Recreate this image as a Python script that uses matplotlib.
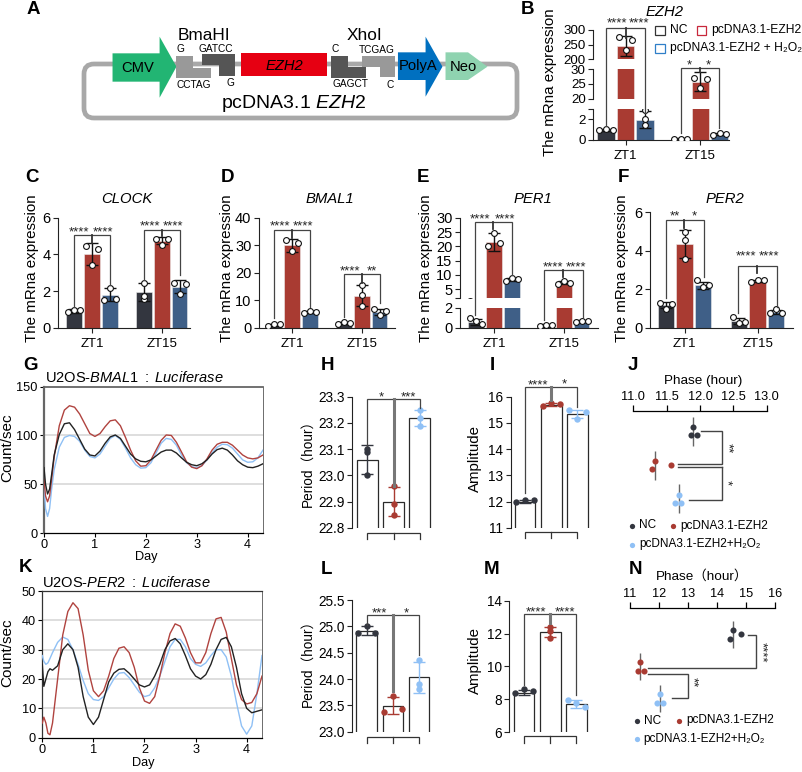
import matplotlib
matplotlib.use('Agg')
import matplotlib.pyplot as plt
from matplotlib.patches import FancyBboxPatch, Polygon, Rectangle

plt.rcParams['font.family'] = ['Liberation Sans', 'Noto Sans CJK SC', 'DejaVu Sans']
plt.rcParams['mathtext.fontset'] = 'custom'
plt.rcParams['mathtext.rm'] = 'Liberation Sans'
plt.rcParams['mathtext.it'] = 'Liberation Sans:italic'

W, H = 802, 772
DARK = '#33363f'
RED = '#a93b32'
NAVY = '#3f5f87'
LBLUE = '#8fc0f5'
LINE_K = '#222222'
LINE_R = '#b0433f'

groups = ['ZT1', 'ZT15']
bar_colors = [DARK, RED, NAVY, DARK, RED, NAVY]

# panel B - EZH2
ezh2_vals = [1.0, 245, 1.95, 0.1, 25.7, 0.55]
ezh2_err = [0.1, 35, 0.8, 0.05, 3.2, 0.1]
ezh2_pts = [[0.95, 1.05, 1.0], [275, 230, 265], [2.85, 2.0, 1.4],
            [0.1, 0.1, 0.1], [26.9, 23.5, 26.7], [0.5, 0.7, 0.6]]
# panel C - CLOCK
clock_vals = [0.93, 4.05, 1.8, 1.95, 4.75, 2.25]
clock_err = [0.1, 0.6, 0.35, 0.5, 0.2, 0.35]
clock_pts = [[0.85, 0.98, 0.98], [4.45, 3.4, 4.3], [1.55, 2.2, 1.6],
             [2.45, 1.6, 1.75], [4.85, 4.5, 4.85], [2.45, 1.85, 2.4]]
# panel D - BMAL1
bmal_vals = [1.2, 30, 5.8, 1.7, 11.7, 5.8]
bmal_err = [0.3, 2.3, 0.4, 0.3, 3.8, 1.2]
bmal_pts = [[0.9, 1.5, 1.3], [32, 27.8, 31], [5.5, 6.3, 5.8],
            [1.5, 2.0, 1.7], [15.5, 11.8, 7.9], [6.9, 4.6, 6.2]]
# panel E - PER1
per1_vals = [0.6, 21.5, 8.4, 0.25, 7.3, 0.65]
per1_err = [0.3, 3.0, 0.5, 0.1, 0.5, 0.1]
per1_pts = [[0.95, 0.7, 0.38], [20, 24.5, 21], [8, 9, 8.5],
            [0.15, 0.3, 0.25], [6.8, 7.8, 7.2], [0.6, 0.7, 0.65]]
# panel F - PER2
per2_vals = [1.2, 4.35, 2.2, 0.35, 2.45, 0.8]
per2_err = [0.15, 0.75, 0.2, 0.15, 0.05, 0.1]
per2_pts = [[1.3, 0.95, 1.25], [4.95, 4.55, 3.55], [2.5, 2.1, 2.2],
            [0.55, 0.25, 0.3], [2.4, 2.5, 2.5], [0.75, 0.95, 0.75]]

# luciferase traces
day = [0, 0.03, 0.07, 0.11, 0.15, 0.2, 0.3, 0.4, 0.5, 0.6, 0.7, 0.8, 0.9, 1.0, 1.1, 1.2, 1.3, 1.4, 1.5, 1.6,
       1.7, 1.8, 1.9, 2.0, 2.1, 2.2, 2.3, 2.4, 2.5, 2.6, 2.7, 2.8, 2.9, 3.0, 3.1, 3.2, 3.3, 3.4, 3.5, 3.6,
       3.7, 3.8, 3.9, 4.0, 4.1, 4.2, 4.3]
g_black = [67, 50, 40, 45, 60, 80, 101, 112, 113, 106, 96, 86, 80, 79, 84, 92, 98.5, 100.5, 97, 89,
           81, 76, 73.5, 73, 75, 79, 83, 85, 85, 82, 77, 72.5, 70, 69, 71, 75, 81, 85.5, 87, 85,
           80, 74, 70, 67.5, 67, 68.5, 71]
g_red = [55, 38, 32, 38, 55, 78, 110, 126, 130.5, 129, 122, 112, 102, 99, 102, 109, 115, 116, 110, 98,
         85, 74, 68.5, 69, 75, 85, 95, 100.5, 100, 93, 83, 73, 67.5, 66, 69, 76, 85, 91, 93, 93,
         90, 85, 80, 77, 76, 77, 80]
g_blue = [50, 25, 17, 25, 45, 65, 88, 98, 100, 99, 94, 85, 78.5, 77, 81, 89, 97, 100, 96, 87,
          77, 70, 66.5, 67, 72, 82, 92, 97, 96, 90, 80, 72, 68, 67, 69, 75, 82, 88, 91, 90.5,
          87, 81, 75, 72.5, 73, 77, 85]
k_black = [25, 17.5, 20, 22.5, 23.5, 23, 24.5, 30, 32, 30, 24, 14, 7, 4.5, 7, 13, 19, 22, 23.3, 23.5,
           22, 20, 18, 17.3, 18, 21, 25, 30, 33, 33.8, 32, 28, 23.5, 21, 20, 21.5, 25, 30, 33.5, 34.2,
           31, 24, 15, 10, 8.5, 9, 9.5]
k_red = [5, 7, 5, 1.5, 1, 5, 20, 35, 43, 46, 44, 35, 23, 16, 14, 16, 21, 27, 30.5, 31,
         29, 24, 17, 12.5, 11.7, 14, 21, 29, 35.5, 38.8, 38, 34, 29, 25.5, 25.5, 29, 35.5, 40.5, 41, 36,
         27, 18, 13, 11.5, 12, 15, 21]
k_blue = [28, 26, 25, 25.5, 27, 29, 32.5, 34.3, 33.5, 30, 25, 19.5, 15, 13, 12.7, 14, 17, 20, 22, 22.2,
          20.5, 18, 15.5, 14, 14.5, 17, 21, 26, 31, 33.5, 33.5, 31, 27, 25, 24.3, 25.5, 28, 30, 30, 27.5,
          21, 12, 4, 1.2, 4, 15, 28]

# period / amplitude panels
trio_colors = [DARK, RED, LBLUE]
h_vals = [23.06, 22.90, 23.22]
h_err = [0.055, 0.055, 0.03]
h_pts = [[23.10, 23.09, 23.0], [22.96, 22.89, 22.85], [23.25, 23.22, 23.19]]
i_vals = [12.0, 15.7, 15.33]
i_err = [0.05, 0.05, 0.15]
i_pts = [[11.97, 12.07, 12.05], [15.65, 15.75, 15.72], [15.5, 15.15, 15.43]]
l_vals = [24.92, 23.49, 24.03]
l_err = [0.08, 0.16, 0.3]
l_pts = [[24.87, 25.0, 24.88], [23.38, 23.67, 23.44], [24.37, 23.91, 23.82]]
m_vals = [8.4, 12.1, 7.7]
m_err = [0.15, 0.3, 0.25]
m_pts = [[8.35, 8.6, 8.5], [12.4, 12.15, 11.75], [7.95, 7.75, 7.5]]

# phase panels
j_phase = [[11.9, 11.86, 11.95], [11.32, 11.285, 11.56], [11.685, 11.625, 11.715]]
j_center = [11.9, 11.32, 11.685]
n_phase = [[14.55, 14.44, 14.83], [11.33, 11.29, 11.47], [12.03, 11.94, 12.15]]
n_center = [14.55, 11.33, 12.03]

fig = plt.figure(figsize=(W / 100, H / 100), dpi=100)


def px_axes(x0, y0, x1, y1):
    # box given in picture pixels, y0 is the top edge
    return fig.add_axes([x0 / W, 1 - y1 / H, (x1 - x0) / W, (y1 - y0) / H])


def style(ax, size=10.5):
    for s in ['top', 'right']:
        ax.spines[s].set_visible(False)
    for s in ['left', 'bottom']:
        ax.spines[s].set_linewidth(0.8)
        ax.spines[s].set_color('#222222')
    ax.tick_params(labelsize=size, length=3.5, width=0.8, pad=2, color='#222222')
    ax.patch.set_alpha(0)


def draw_bars(ax, vals, err, pts, xs, stacked=()):
    ax.bar(xs, vals, width=0.88, color=bar_colors, edgecolor='#eeeeee', linewidth=0.4, zorder=2)
    for i, x in enumerate(xs):
        ax.errorbar(x, vals[i], yerr=err[i], color='#111111', lw=1, capsize=4, capthick=1, zorder=3)
        off = [0, 0, 0] if i in stacked else [-0.34, 0, 0.34]
        ax.plot([x + o for o in off], pts[i], 'o', mfc='white', mec='#111111', ms=4.2, mew=0.8, zorder=4, ls='none')


def group_panel(segments, x0, x1, c0, vals, err, pts, stacked=(), step=17.9, gap=3.9, size=10.5):
    xs = [0, 1, 2, gap, gap + 1, gap + 2]
    for k, (y_top, y_bot, lim, ticks, labels) in enumerate(segments):
        ax = px_axes(x0, y_top, x1, y_bot)
        style(ax, size)
        draw_bars(ax, vals, err, pts, xs, stacked)
        ax.set_xlim((x0 - c0) / step, (x1 - c0) / step)
        ax.set_ylim(*lim)
        ax.set_yticks(ticks)
        ax.set_yticklabels(labels)
        if k == len(segments) - 1:
            ax.set_xticks([1, gap + 1])
            ax.set_xticklabels(groups, fontsize=9.5)
            ax.tick_params(axis='x', pad=4)
        else:
            ax.set_xticks([])
            ax.spines['bottom'].set_visible(False)


def nums(vs):
    return [str(v) for v in vs]


# B
group_panel([(30, 59, (200, 300), [200, 250, 300], nums([200, 250, 300])),
             (69, 98.7, (20, 30), [20, 25, 30], nums([20, 25, 30])),
             (108.7, 140, (0, 3.02), [0, 2, 3], ['0', '2', ''])],
            593.4, 729, 606, ezh2_vals, ezh2_err, ezh2_pts, stacked=(2,), step=19.5, gap=3.83, size=9.6)
# C, D
group_panel([(217.7, 328, (0, 6), [0, 2, 4, 6], nums([0, 2, 4, 6]))],
            58, 190, 74, clock_vals, clock_err, clock_pts, stacked=(3,))
group_panel([(217.7, 328, (0, 40), [0, 10, 20, 30, 40], nums([0, 10, 20, 30, 40]))],
            259, 395, 274, bmal_vals, bmal_err, bmal_pts, stacked=(4,))
# E
group_panel([(217.7, 297.7, (2.07, 30), [2.07, 5, 10, 15, 20, 25, 30], ['', '5', '10', '15', '20', '25', '30']),
             (307.7, 327.7, (0, 2), [0, 2], ['0', '2'])],
            460, 598, 476, per1_vals, per1_err, per1_pts)
# F
group_panel([(212.3, 327.7, (0, 6), [0, 2, 4, 6], nums([0, 2, 4, 6]))],
            650, 793, 666, per2_vals, per2_err, per2_pts, stacked=(1,), step=18.5, gap=3.95)


def trace_panel(x0, x1, y0, y1, ymax, yticks, grid, traces, heavy):
    ax = px_axes(x0, y0, x1, y1)
    for g in grid:
        ax.axhline(g, color='#d4d4d4', lw=1.1, zorder=1)
    for vals, c in traces:
        ax.plot(day, vals, color=c, lw=1.0, zorder=3)
    ax.set_xlim(0, 4.3)
    ax.set_ylim(0, ymax)
    ax.set_xticks([0, 1, 2, 3, 4])
    ax.set_yticks(yticks)
    ax.tick_params(labelsize=9.2, length=3, width=0.8, pad=1.5)
    edge = '#666666' if heavy else '#333333'
    ax.spines['left'].set_color(edge)
    ax.spines['left'].set_linewidth(1.6 if heavy else 0.9)
    ax.spines['top'].set_color(edge)
    ax.spines['top'].set_linewidth(1.3 if heavy else 0.9)
    ax.spines['right'].set_color('#555555')
    ax.spines['right'].set_linewidth(0.6)
    ax.spines['bottom'].set_linewidth(0.9)


trace_panel(44, 263, 386.7, 533, 150, [0, 50, 100, 150], [50, 100],
            [(g_blue, LBLUE), (g_red, LINE_R), (g_black, LINE_K)], True)
trace_panel(42.3, 262, 591, 737.7, 50, [0, 10, 20, 30, 40, 50], [10, 20, 30, 40],
            [(k_blue, LBLUE), (k_red, LINE_R), (k_black, LINE_K)], False)


def trio_panel(x0, x1, c0, y0, y1, lim, ticks, labels, vals, err, pts, stacked=(), step=26.2):
    ax = px_axes(x0, y0, x1, y1)
    style(ax, 9.8)
    ax.spines['bottom'].set_visible(False)
    xs = [0, 1, 2]
    ax.bar(xs, vals, width=0.79, color='white', edgecolor='#2a2a2a', linewidth=0.9, zorder=2)
    for i, x in enumerate(xs):
        ax.errorbar(x, vals[i], yerr=err[i], color=trio_colors[i], lw=1, capsize=4.2, capthick=1, zorder=3)
        off = [0, 0, 0] if i in stacked else [-0.33, 0, 0.33]
        ax.plot([x + o for o in off], pts[i], 'o', color=trio_colors[i], ms=4.6, mew=0, zorder=4, clip_on=False, ls='none')
    ax.set_xlim((x0 - c0) / step, (x1 - c0) / step)
    ax.set_ylim(*lim)
    ax.set_yticks(ticks)
    ax.set_yticklabels(labels)
    ax.set_xticks([])


trio_panel(352.3, 433, 367.3, 396.7, 527.7, (22.8, 23.3), [22.8, 22.9, 23.0, 23.1, 23.2, 23.3],
           ['22.8', '22.9', '23.0', '23.1', '23.2', '23.3'], h_vals, h_err, h_pts, stacked=(0, 1, 2))
trio_panel(510.5, 590, 525, 396.7, 527.7, (11, 16), [11, 12, 13, 14, 15, 16],
           nums([11, 12, 13, 14, 15, 16]), i_vals, i_err, i_pts)
trio_panel(352.3, 433, 366.7, 600, 731.7, (23, 25.5), [23, 23.5, 24, 24.5, 25, 25.5],
           ['23.0', '23.5', '24.0', '24.5', '25.0', '25.5'], l_vals, l_err, l_pts, stacked=(2,))
trio_panel(509.3, 590, 524, 600.7, 732, (6, 14), [6, 8, 10, 12, 14],
           nums([6, 8, 10, 12, 14]), m_vals, m_err, m_pts, stacked=(1,))


def phase_panel(x0, x1, y0, y1, lim, ticks, labels, phases, centers, rows, half, row_off):
    ax = px_axes(x0, y0, x1, y1)
    ax.patch.set_alpha(0)
    for s in ['left', 'right', 'bottom']:
        ax.spines[s].set_visible(False)
    ax.spines['top'].set_linewidth(0.9)
    ax.xaxis.tick_top()
    ax.set_xticks(ticks)
    ax.set_xticklabels(labels)
    ax.tick_params(axis='x', labelsize=9.2, length=4, width=0.9, pad=2)
    ax.set_yticks([])
    ax.set_xlim(*lim)
    ax.set_ylim(y1, y0)
    for i in range(3):
        ax.vlines(centers[i], rows[i] - half, rows[i] + half, color='#666666', lw=1, zorder=2)
        ax.plot(phases[i], [rows[i] + o for o in row_off[i]], 'o', color=trio_colors[i], ms=4.4, mew=0, zorder=3, ls='none')


phase_panel(633.3, 766.7, 411, 520, (11, 13), [11, 11.5, 12, 12.5, 13], ['11.0', '11.5', '12.0', '12.5', '13.0'],
            j_phase, j_center, [431, 465, 498.5], 14.5, [[-4, 4, 4], [-4, 4, 0], [-4, 4, 4]])
phase_panel(630, 775, 608.3, 715, (11, 16), [11, 12, 13, 14, 15, 16], nums([11, 12, 13, 14, 15, 16]),
            n_phase, n_center, [634, 666.7, 698.3], 13.5, [[-4.5, 4.5, 0], [-4.5, 4.5, 4.5], [-4.5, 4.5, 4.5]])

# overlay in picture pixels for schematic, brackets and labels
ov = fig.add_axes([0, 0, 1, 1], zorder=20)
ov.set_xlim(0, W)
ov.set_ylim(H, 0)
ov.axis('off')
ov.patch.set_alpha(0)


def t(x, y, s, size=10.5, ha='center', va='center', **kw):
    ov.text(x, y, s, fontsize=size, ha=ha, va=va, **kw)


def poly(pts, color):
    ov.add_patch(Polygon([(a / 1.955, b / 3) for a, b in pts], closed=True, fc=color, ec='none', zorder=3))


# A schematic
ov.add_patch(FancyBboxPatch((84, 64), 433, 54, boxstyle='round,pad=0,rounding_size=10', fc='none', ec='#a8a8a8', lw=3.4, zorder=1))
poly([(220, 160), (312, 160), (312, 110), (345, 200), (312, 293), (312, 245), (220, 245)], '#22b573')
poly([(345, 168), (378, 168), (378, 203), (412, 203), (412, 235), (345, 235)], '#999999')
poly([(395, 162), (460, 162), (460, 228), (428, 228), (428, 195), (395, 195)], '#555555')
poly([(472, 160), (640, 160), (640, 227), (472, 227)], '#e60012')
poly([(648, 167), (680, 167), (680, 200), (715, 200), (715, 233), (648, 233)], '#555555')
poly([(708, 167), (772, 167), (772, 232), (742, 232), (742, 200), (708, 200)], '#999999')
poly([(778, 157), (832, 157), (832, 110), (865, 200), (832, 290), (832, 240), (778, 240)], '#0070c0')
poly([(871, 157), (915, 157), (953, 200), (915, 240), (871, 240)], '#8fd3b0')
t(204, 35, 'BmaHI', 12.4)
t(364.7, 35, 'XhoI', 12.4)
t(138, 68, 'CMV', 10.6, zorder=5)
t(418, 66, 'PolyA', 10.6, zorder=5)
t(463, 66.7, 'Neo', 10.6, zorder=5)
t(284, 65.7, 'EZH2', 10.6, style='italic', zorder=5)
t(294, 103, r'pcDNA3.1 $\mathit{EZH2}$', 14)
for x, y, s in [(180, 49.5, 'G'), (216, 49, 'GATCC'), (194, 84.5, 'CCTAG'), (230, 83.5, 'G'),
                (335, 49.5, 'C'), (377, 50, 'TCGAG'), (350.4, 84, 'GAGCT'), (390, 85, 'C')]:
    t(x, y, s, 7.3)

# B legend
for x, y, c in [(655.3, 30, '#333333'), (696.7, 30, '#c8283c'), (655.3, 48, '#2f7fc8')]:
    ov.add_patch(Rectangle((x, y - 4.5), 9.5, 9, fc='none', ec=c, lw=0.9))
t(670, 30, 'NC', 8.7, ha='left')
t(711, 30, 'pcDNA3.1-EZH2', 8.7, ha='left')
t(670, 48, 'pcDNA3.1-EZH2 + H₂O₂', 8.7, ha='left')

# brackets: left x, mid x, right x, top y, left end, mid end, right end
brackets = [(606, 625.6, 645, 28.3, 126, 38, 113), (680.8, 700.3, 718.7, 67.7, 133, 72, 128),
            (74, 92, 110, 235.3, 306.7, 243, 285), (144, 161.7, 180, 230, 280, 236, 275),
            (274, 291.7, 310, 230, 318, 238, 306.7), (344.3, 362, 380, 274, 316.7, 283, 303.3),
            (475.3, 492.7, 512, 221.7, 315, 229, 275), (544, 563, 583, 270, 320, 276.7, 316.7),
            (666.3, 684.3, 704, 220.3, 298.3, 228.3, 276.7), (737.7, 756.7, 776.7, 266.3, 313.3, 273.3, 306.7),
            (367.3, 393.7, 419.7, 399, 445.7, 486, 408), (525, 551.3, 577.3, 386.7, 493, 400, 406.7),
            (366.7, 393, 419, 615, 625, 691, 655), (524, 550.3, 576.3, 614.3, 685, 623, 695)]
for i, (a, b, c, top, le, me, re) in enumerate(brackets):
    ov.plot([a, a, c, c], [le, top, top, re], color='#444444', lw=0.9, solid_joinstyle='miter')
    heavy = i >= 10
    ov.plot([b, b], [top, me], color='#777777' if heavy else '#333333', lw=2.2 if heavy else 1.3)

stars = [(617.4, 23.5, '****'), (639.4, 23.5, '****'), (689.5, 65, '*'), (708.4, 65, '*'),
         (79, 232.5, '****'), (102.7, 232.5, '****'), (150, 226, '****'), (173, 226, '****'),
         (280, 226.5, '****'), (303, 226.5, '****'), (350, 271, '****'), (371.7, 271, '**'),
         (480.3, 219, '****'), (505.3, 219, '****'), (552.7, 267.5, '****'), (576, 267.5, '****'),
         (674.7, 216.5, '**'), (694.7, 216.5, '*'), (746, 256.5, '****'), (769, 256.5, '****'),
         (381, 397.5, '*'), (408.7, 397.5, '***'), (537.7, 385, '****'), (564, 384.5, '*'),
         (379, 613, '***'), (406, 613, '*'), (536, 612, '****'), (565, 612, '****')]
for x, y, s in stars:
    t(x, y, s, 9.5, color='#222222')

# bottom brackets of the period and amplitude panels
for a, b, c, y in [(367.3, 393.7, 419.7, 532.7), (525, 551.3, 577.3, 531.7),
                   (366.7, 393, 419, 736.7), (524, 550.3, 576.3, 736)]:
    ov.plot([a, a, c, c], [y + 6.5, y, y, y + 6.5], color='#333333', lw=0.9, solid_joinstyle='miter')
    ov.plot([b, b], [y, y + 6.5], color='#333333', lw=0.9)

# phase brackets
for xs, ys in [((701, 721.7, 721.7, 677.7), (430.7, 430.7, 464, 464)),
               ((677.7, 721.7), (466.7, 466.7)),
               ((721.7, 721.7, 689.3), (466.7, 500, 500)),
               ((747.7, 755.7, 755.7, 648.3), (635.3, 635.3, 667.7, 667.7)),
               ((648.3, 687.7, 687.7, 671.7), (674, 674, 698, 698))]:
    ov.plot(xs, ys, color='#444444', lw=1.0, solid_joinstyle='miter')
t(727, 448, '**', 9.5, rotation=270, color='#222222')
t(726.5, 483, '*', 9.5, rotation=270, color='#222222')
t(761, 652.5, '****', 9.5, rotation=270, color='#222222')
t(692.5, 682.5, '**', 9.5, rotation=270, color='#222222')

# phase legends
for x1, x2, ty, ty2 in [(632.3, 673.3, 525.5, 544.5), (636.7, 678.5, 720.5, 739.3)]:
    ov.plot([x1], [ty], 'o', ms=3.8, mew=0, color=DARK)
    ov.plot([x2], [ty], 'o', ms=3.8, mew=0, color=RED)
    ov.plot([x1], [ty2], 'o', ms=3.8, mew=0, color=LBLUE)
    t(x1 + 7, ty, 'NC', 8.5, ha='left')
    t(x2 + 7.3, ty, 'pcDNA3.1-EZH2', 8.5, ha='left')
    t(x1 + 7, ty2, 'pcDNA3.1-EZH2+H₂O₂', 8.5, ha='left')

# axis labels and titles
for x, y in [(550, 82), (32, 268), (227, 268), (426, 268), (622, 268)]:
    t(x, y, 'The mRna expression', 10.9, rotation=90)
for x, y, s in [(665, 12, 'EZH2'), (127, 199, 'CLOCK'), (330, 199, 'BMAL1'), (533, 199, 'PER1'), (725, 199, 'PER2')]:
    t(x, y, s, 10.7, style='italic')
t(7, 448, 'Count/sec', 11, rotation=90)
t(7, 652.7, 'Count/sec', 11, rotation=90)
t(146, 557, 'Day', 9.2)
t(143, 763, 'Day', 9.2)
t(45, 377.7, r'U2OS-$\mathit{BMAL1\ :\ Luciferase}$', 10.5, ha='left')
t(42.3, 582.7, r'U2OS-$\mathit{PER2\ :\ Luciferase}$', 10.5, ha='left')
t(308, 460, 'Period（hour）', 9.8, rotation=90)
t(308, 660, 'Period（hour）', 9.8, rotation=90)
t(475, 458, 'Amplitude', 10.8, rotation=90)
t(475, 660, 'Amplitude', 10.8, rotation=90)
t(703, 380.7, 'Phase (hour)', 9.7)
t(701.7, 576.7, 'Phase（hour）', 9.7)

letters = [('A', 33, 10), ('B', 528, 9), ('C', 32, 178), ('D', 228, 178), ('E', 423, 178), ('F', 623, 178),
           ('G', 31, 365), ('H', 327, 365), ('I', 492, 365), ('J', 633, 365), ('K', 26, 568), ('L', 326, 569),
           ('M', 492, 569), ('N', 635, 569)]
for s, x, y in letters:
    t(x, y, s, 13.5, fontweight='bold', color='black')

plt.savefig('out.png', dpi=100)
